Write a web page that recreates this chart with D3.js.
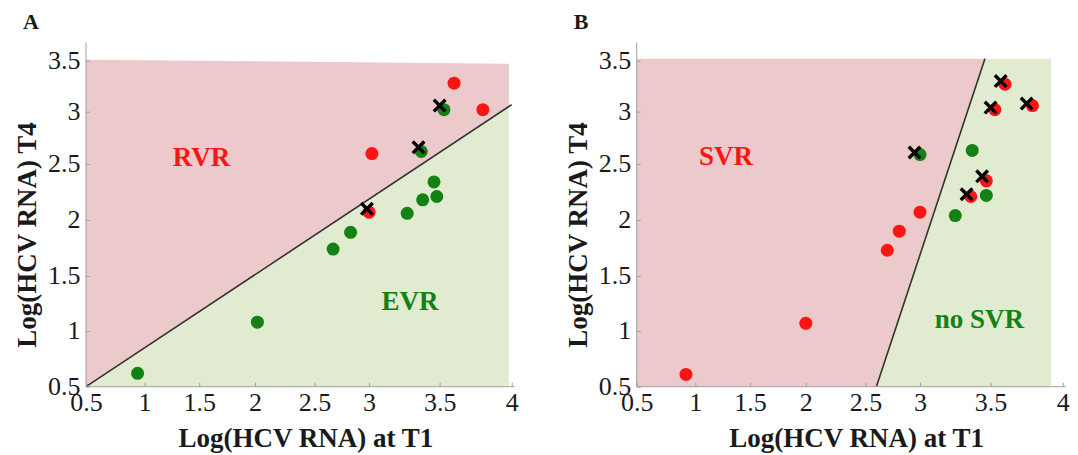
<!DOCTYPE html>
<html><head><meta charset="utf-8">
<script src="https://cdn.jsdelivr.net/npm/d3@7"></script>
<style>body{margin:0;background:#fff} svg{display:block}</style>
</head><body><svg id="c" width="1078" height="455"></svg>
<script>
// ---------- data ----------
const xTicks = [0.5, 1, 1.5, 2, 2.5, 3, 3.5, 4];
const yTicks = [0.5, 1, 1.5, 2, 2.5, 3, 3.5];
const xTickLabels = ["0.5", "1", "1.5", "2", "2.5", "3", "3.5", "4"];
const yTickLabels = ["0.5", "1", "1.5", "2", "2.5", "3", "3.5"];

// Panel A  (RVR vs EVR)
const aRed   = [[3.00, 2.07], [3.02, 2.60], [3.80, 3.02], [3.60, 3.28]];
const aGreen = [[0.94, 0.62], [2.02, 1.08], [2.67, 1.74], [2.83, 1.89], [3.27, 2.06],
                [3.38, 2.18], [3.48, 2.21], [3.46, 2.34], [3.37, 2.62], [3.53, 3.02]];
const aCross = [[2.98, 2.10], [3.35, 2.66], [3.50, 3.06]];
const aBoundary = [[0.5, 0.5], [4.0, 3.07]];
const aRegionLabels = [["RVR", 1.52, 2.485, "red"], ["EVR", 3.29, 1.19, "green"]];

// Panel B  (SVR vs no SVR)
const bRed   = [[0.92, 0.61], [2.00, 1.07], [2.70, 1.73], [2.81, 1.90], [3.00, 2.07],
                [3.36, 2.21], [3.47, 2.35], [3.53, 3.02], [3.60, 3.27], [3.79, 3.06]];
const bGreen = [[3.00, 2.59], [3.25, 2.04], [3.37, 2.63], [3.47, 2.22]];
const bCross = [[2.95, 2.61], [3.33, 2.23], [3.44, 2.39], [3.50, 3.04], [3.57, 3.30], [3.75, 3.08]];
const bBoundary = [[2.6, 0.5], [3.46, 3.52]];
const bRegionLabels = [["SVR", 1.28, 2.49, "red"], ["no SVR", 3.42, 1.03, "green"]];

const xTitle = "Log(HCV RNA) at T1";
const yTitle = "Log(HCV RNA) T4";

// ---------- layout ----------
// tick positions of the (non-uniform) original axes, as fractions of the plot extent
const xTickFrac = [0, 0.1377, 0.266, 0.397, 0.537, 0.665, 0.8307, 1];
const yTickFrac = [0, 0.1709, 0.3396, 0.5113, 0.683, 0.8436, 1];
const panels = [
  {letter: "A", left: 86, width: 425.7, red: aRed, green: aGreen, cross: aCross,
   boundary: aBoundary, labels: aRegionLabels, fillRight: 3.98, fillTop: 3.51, type: "diag"},
  {letter: "B", left: 636.7, width: 426, red: bRed, green: bGreen, cross: bCross,
   boundary: bBoundary, labels: bRegionLabels, fillRight: 3.92, fillTop: 3.52, type: "steep"}
];
const plotBottom = 386.7, plotHeight = 326;
const COL = {pink: "#ecc9ca", lgreen: "#e1ebcf", red: "#ff1414", green: "#138113",
             axis: "#a0a0a0", text: "#1a1a1a"};
const serif = "'Liberation Serif','Times New Roman',serif";

const svg = d3.select("#c");

panels.forEach(p => {
  const x = d3.scaleLinear().domain(xTicks).range(xTickFrac.map(f => p.left + f * p.width));
  const y = d3.scaleLinear().domain(yTicks).range(yTickFrac.map(f => plotBottom - f * plotHeight));
  const g = svg.append("g");

  // boundary line in pixel space
  const [b0, b1] = p.boundary.map(d => [x(d[0]), y(d[1])]);
  const lineAtX = px => b0[1] + (px - b0[0]) / (b1[0] - b0[0]) * (b1[1] - b0[1]);
  const xl = x(0.5), xr = x(p.fillRight), yb = y(0.5), yt = y(p.fillTop);

  let pinkPoly, greenPoly;
  if (p.type === "diag") {
    const yr = lineAtX(xr);
    pinkPoly = [[xl, yb], [xl, yt], [xr, yt + 4], [xr, yr], b0];
    greenPoly = [b0, [xr, yr], [xr, yb]];
  } else {
    pinkPoly = [[xl, yb], [xl, yt], b1, b0];
    greenPoly = [b0, b1, [xr, yt], [xr, yb]];
  }
  const poly = d3.line();
  g.append("path").attr("d", poly(pinkPoly) + "Z").attr("fill", COL.pink);
  g.append("path").attr("d", poly(greenPoly) + "Z").attr("fill", COL.lgreen);

  // boundary line
  g.append("path").attr("d", poly([b0, b1])).attr("stroke", "#333").attr("stroke-width", 1.6).attr("fill", "none");

  // axes
  const xAxis = d3.axisBottom(x).tickValues(xTicks).tickSizeInner(-4).tickSizeOuter(0)
    .tickFormat((d, i) => xTickLabels[i]);
  const gx = g.append("g").attr("transform", `translate(0,${yb})`).call(xAxis);
  gx.select(".domain").attr("d", `M${xl},0H${x(4) + 3}`).attr("stroke", COL.axis);
  gx.selectAll(".tick line").attr("stroke", COL.axis);
  gx.selectAll(".tick text").attr("y", 24).attr("dy", 0).attr("fill", COL.text)
    .style("font-family", serif).style("font-size", "26px");

  const yAxis = d3.axisLeft(y).tickValues(yTicks).tickSizeInner(-4).tickSizeOuter(0)
    .tickFormat((d, i) => yTickLabels[i]);
  const gy = g.append("g").attr("transform", `translate(${xl},0)`).call(yAxis);
  gy.select(".domain").attr("d", `M0,${yb}V${y(3.68)}`).attr("stroke", COL.axis);
  gy.selectAll(".tick line").attr("stroke", COL.axis);
  gy.selectAll(".tick text").attr("x", -5.5).attr("dy", "0.3em").attr("fill", COL.text)
    .style("font-family", serif).style("font-size", "26px");

  // points
  g.append("g").selectAll("circle").data(p.green).join("circle")
    .attr("cx", d => x(d[0])).attr("cy", d => y(d[1])).attr("r", 6.5).attr("fill", COL.green);
  g.append("g").selectAll("circle").data(p.red).join("circle")
    .attr("cx", d => x(d[0])).attr("cy", d => y(d[1])).attr("r", 6.5).attr("fill", COL.red);
  const s = 5.8;
  g.append("g").selectAll("path").data(p.cross).join("path")
    .attr("d", d => { const cx = x(d[0]), cy = y(d[1]);
      return `M${cx - s},${cy - s}L${cx + s},${cy + s}M${cx - s},${cy + s}L${cx + s},${cy - s}`; })
    .attr("stroke", "#000").attr("stroke-width", 3.4).attr("fill", "none");

  // region labels
  g.append("g").selectAll("text").data(p.labels).join("text")
    .attr("x", d => x(d[1])).attr("y", d => y(d[2]))
    .attr("text-anchor", "middle").attr("fill", d => d[3] === "red" ? COL.red : COL.green)
    .style("font-family", serif).style("font-size", "27px").style("font-weight", "bold")
    .text(d => d[0]);

  // axis titles
  g.append("text").attr("x", p.left + p.width / 2 + 7).attr("y", 447)
    .attr("text-anchor", "middle").attr("fill", COL.text)
    .style("font-family", serif).style("font-size", "27px").style("font-weight", "bold")
    .text(xTitle);
  g.append("text").attr("transform", `translate(${xl - 50},235) rotate(-90)`)
    .attr("text-anchor", "middle").attr("fill", COL.text)
    .style("font-family", serif).style("font-size", "27px").style("font-weight", "bold")
    .text(yTitle);

  // panel letter
  g.append("text").attr("x", xl - 63).attr("y", 29).attr("fill", COL.text)
    .style("font-family", serif).style("font-size", "22px").style("font-weight", "bold")
    .text(p.letter);
});
</script></body></html>
